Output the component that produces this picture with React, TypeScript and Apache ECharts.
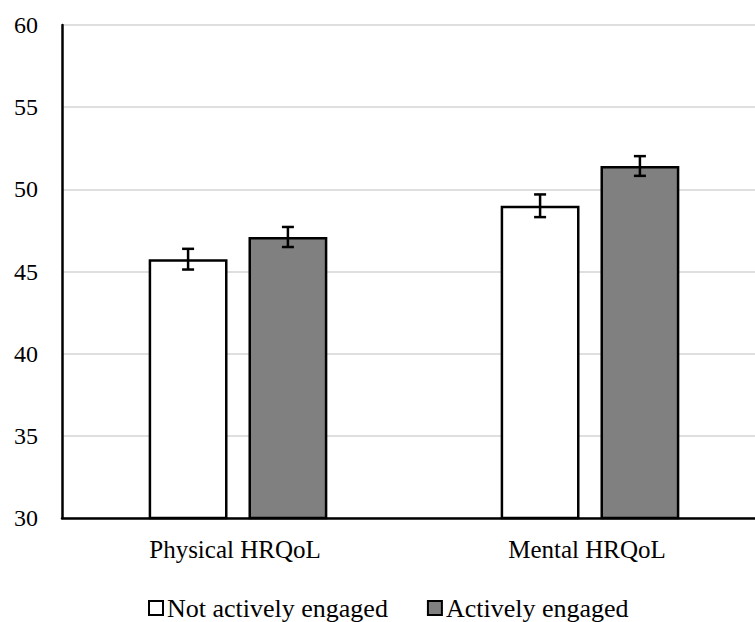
import React, { useEffect, useRef } from "react";
import * as echarts from "echarts";

const categories = ["Physical HRQoL", "Mental HRQoL"];
const seriesNames = ["Not actively engaged", "Actively engaged"];
const notEngaged = [45.75, 49.0];
const engaged = [47.1, 51.42];
const notEngagedErr = [0.63, 0.69];
const engagedErr = [0.61, 0.6];

const FONT = "Liberation Serif, Times New Roman, serif";
const BAR_W = 0.224;
const GAP = 0.266;

function errData(vals: number[], errs: number[]) {
  return vals.map((v, i) => [i, v - errs[i], v + errs[i]]);
}

function makeRender(sign: number) {
  return (params: any, api: any) => {
    const x = api.value(0);
    const lo = api.value(1);
    const hi = api.value(2);
    const band = api.size([1, 0])[0];
    const bw = band * BAR_W;
    const off = (sign * (bw + bw * GAP)) / 2;
    const t = api.coord([x, hi]);
    const b = api.coord([x, lo]);
    const cx = t[0] + off;
    const half = 6;
    const style = { stroke: "#000", lineWidth: 2.5 };
    return {
      type: "group",
      children: [
        { type: "line", shape: { x1: cx, y1: t[1], x2: cx, y2: b[1] }, style },
        { type: "line", shape: { x1: cx - half, y1: t[1], x2: cx + half, y2: t[1] }, style },
        { type: "line", shape: { x1: cx - half, y1: b[1], x2: cx + half, y2: b[1] }, style },
      ],
    };
  };
}

export default function App() {
  const ref = useRef<HTMLDivElement>(null);
  useEffect(() => {
    if (!ref.current) return;
    const chart = echarts.init(ref.current, undefined, { renderer: "svg" });
    chart.setOption({
      animation: false,
      backgroundColor: "#fff",
      textStyle: { fontFamily: FONT },
      grid: {
        left: 62,
        top: 25,
        bottom: 104,
        width: 704,
        containLabel: false,
        outerBoundsMode: "none",
      },
      legend: {
        data: seriesNames,
        left: 143,
        top: 590,
        icon: "rect",
        itemWidth: 14,
        itemHeight: 14,
        itemGap: 39,
        textStyle: { fontFamily: FONT, fontSize: 26, color: "#000", padding: [0, 0, 0, -1] },
        itemStyle: { borderColor: "#000", borderWidth: 2 },
      },
      xAxis: {
        type: "category",
        data: categories,
        axisLine: { lineStyle: { color: "#000", width: 2.5 } },
        axisTick: { show: false },
        axisLabel: { fontFamily: FONT, fontSize: 25, color: "#000", margin: 19, padding: [0, 6, 0, 0] },
      },
      yAxis: {
        type: "value",
        min: 30,
        max: 60,
        interval: 5,
        axisLine: { show: true, lineStyle: { color: "#000", width: 2.5 } },
        axisTick: { show: false },
        splitLine: { lineStyle: { color: "#d4d4d4", width: 1.5 } },
        axisLabel: { fontFamily: FONT, fontSize: 24, color: "#000", margin: 24 },
      },
      series: [
        {
          name: seriesNames[0],
          type: "bar",
          data: notEngaged,
          barWidth: BAR_W * 100 + "%",
          barGap: GAP * 100 + "%",
          itemStyle: { color: "#ffffff", borderColor: "#000", borderWidth: 2.5 },
        },
        {
          name: seriesNames[1],
          type: "bar",
          data: engaged,
          barWidth: BAR_W * 100 + "%",
          barGap: GAP * 100 + "%",
          itemStyle: { color: "#808080", borderColor: "#000", borderWidth: 2.5 },
        },
        {
          type: "custom",
          renderItem: makeRender(-1),
          data: errData(notEngaged, notEngagedErr),
          encode: { x: 0, y: [1, 2] },
          z: 5,
        },
        {
          type: "custom",
          renderItem: makeRender(1),
          data: errData(engaged, engagedErr),
          encode: { x: 0, y: [1, 2] },
          z: 5,
        },
      ],
    });
    return () => chart.dispose();
  }, []);
  return (
    <div
      ref={ref}
      style={{ position: "fixed", left: 0, top: 0, width: 755, height: 622, background: "#fff" }}
    />
  );
}
